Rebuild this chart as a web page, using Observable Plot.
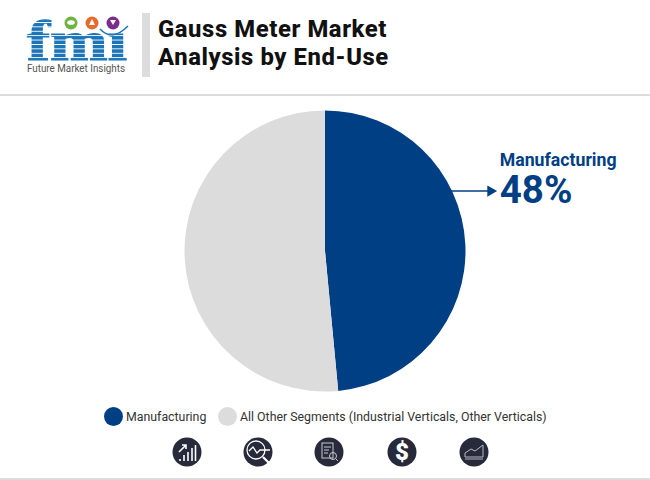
<!DOCTYPE html>
<html>
<head>
<meta charset="utf-8">
<script src="https://cdn.jsdelivr.net/npm/d3@7"></script>
<script src="https://cdn.jsdelivr.net/npm/@observablehq/plot@0.6"></script>
<style>
  html,body{margin:0;padding:0;background:#fff;}
  body{width:650px;height:480px;position:relative;overflow:hidden;font-family:Roboto,sans-serif;}
  #header{position:absolute;left:0;top:0;width:650px;height:96px;border-bottom:2px solid #dcdcdc;box-sizing:border-box;}
  #logo{position:absolute;left:20px;top:0;overflow:visible;}
  #bar{position:absolute;left:142px;top:13px;width:8px;height:64px;background:#dcdcdc;}
  #title{position:absolute;left:158px;top:16px;font-size:23.8px;line-height:27.5px;font-weight:800;color:#111;letter-spacing:.6px;white-space:nowrap;}
  #chart{position:absolute;left:0;top:96px;}
  #legend{position:absolute;left:0;top:407px;width:650px;height:20px;font-size:12.35px;color:#333;}
  #legend span{position:absolute;top:1px;line-height:18px;white-space:nowrap;}
  #legend i{position:absolute;top:0;width:19px;height:19px;border-radius:50%;}
  #icons{position:absolute;left:0;top:435px;}
  #foot{position:absolute;left:0;top:478px;width:650px;height:2px;background:#dcdcdc;}
</style>
</head>
<body>
<div id="header">
  <svg id="logo" width="115" height="80" viewBox="0 0 115 80">
    <defs>
      <pattern id="st" width="4" height="4.4" patternUnits="userSpaceOnUse"><rect width="4" height="0.9" fill="#fff"/></pattern>
    </defs>
    <text x="7" y="60" font-family="Liberation Serif,serif" font-weight="700" font-size="56" fill="#1c75b8" stroke="#1c75b8" stroke-width="1.2" textLength="100" lengthAdjust="spacingAndGlyphs">fmi</text>
    <rect x="78" y="14" width="30" height="19" fill="#fff"/>
    <rect x="4" y="18" width="106" height="44" fill="url(#st)"/>
    <circle cx="51" cy="23" r="6.5" fill="#6cb33f"/><ellipse cx="51" cy="22.500" rx="3.800" ry="2.300" fill="#fff"/>
    <circle cx="72" cy="23" r="6.5" fill="#e8692c"/><path d="M72 19l3 6h-6z" fill="#fff"/>
    <circle cx="93" cy="23" r="6.5" fill="#7b2d8b"/><path d="M90 20h6l-3 5z" fill="#fff"/>
    <path d="M80 29 Q92 42 108 26" fill="none" stroke="#1c75b8" stroke-width="1.5"/>
    <text x="7" y="72" font-family="Roboto,sans-serif" font-size="10" fill="#555" textLength="98" lengthAdjust="spacingAndGlyphs">Future Market Insights</text>
  </svg>
  <div id="bar"></div>
  <div id="title">Gauss Meter Market<br>Analysis by End-Use</div>
</div>
<div id="chart"></div>
<div id="legend"></div>
<svg id="icons" width="650" height="36" viewBox="0 435 650 36">
  <g fill="#272a3a">
    <circle cx="187" cy="452" r="14.5"/><circle cx="258" cy="452" r="14.5"/><circle cx="329" cy="452" r="14.5"/><circle cx="402" cy="452" r="14.5"/><circle cx="474" cy="452" r="14.5"/>
  </g>
  <g stroke="#fff" fill="none" stroke-width="1.6">
    <path d="M180 461v-2M184 461v-6M188 461v-9M192 461v-13M195.500 461v-16"/>
    <path d="M179 452l6-6M182 445h4v4"/>
  </g>
  <g fill="none" stroke="#fff" stroke-width="1.3">
    <circle cx="256" cy="450" r="9"/>
    <path d="M249 451l4-4 4 6 3-3h10" />
    <path d="M263 457l6 6" stroke-width="2.2"/>
  </g>
  <g fill="none" stroke="#c9cad0" stroke-width="1">
    <rect x="322" y="443" width="11" height="15"/>
    <path d="M324 447h7M324 450h5M324 453h4"/>
    <circle cx="333" cy="456" r="3.5"/><path d="M336 459l2 2"/>
  </g>
  <text x="402" y="460" text-anchor="middle" font-family="Roboto,sans-serif" font-weight="900" font-size="24" fill="#fff">$</text>
  <g fill="none" stroke="#b9bac2" stroke-width="1">
    <path d="M465 453l6-4 4 2 8-6v12h-18zM465 458h18"/>
  </g>
  <path d="M465 457h18v3h-18z" fill="#6d6f7c"/>
</svg>
<div id="foot"></div>
<script>
const categories = ["Manufacturing", "All Other Segments (Industrial Verticals, Other Verticals)"];
const shares = [48.5, 51.5];
const sliceColors = ["#003f84", "#dcdcdc"];
const calloutName = "Manufacturing";
const calloutValue = "48%";

const slices = categories.map((c, i) => ({category: c, share: shares[i]}));

// Pie unit coordinates: radius is 1, origin is the pie centre.
function pieMark(index, {x, y}) {
  const cx = x(0), cy = y(0), r = x(1) - x(0);
  const arcs = d3.pie().sort(null).value(d => d.share)(slices);
  const arc = d3.arc().innerRadius(0).outerRadius(r);
  const g = d3.create("svg:g").attr("transform", `translate(${cx},${cy})`);
  g.selectAll("path").data(arcs).join("path")
    .attr("d", arc)
    .attr("fill", (d, i) => sliceColors[i]);
  return g.node();
}

const R = 140.5;
const plot = Plot.plot({
  width: 650, height: 304, margin: 0,
  x: {domain: [-325 / R, 325 / R], range: [0, 650], axis: null},
  y: {domain: [-155 / R, 149 / R], range: [0, 304], axis: null},
  marks: [
    pieMark,
    Plot.ruleY([-0.43], {x1: 0.89, x2: 1.16, stroke: "#003f84", strokeWidth: 1.5}),
    Plot.dot([[1.175, -0.43]], {x: d => d[0], y: d => d[1], symbol: "triangle", rotate: 90, r: 4.2, fill: "#003f84"}),
    Plot.text([calloutName], {x: 1.24, y: -0.65, text: d => d, textAnchor: "start", fontSize: 17.7, fontWeight: 700, fill: "#003f84", fontFamily: "Roboto"}),
    Plot.text([calloutValue], {x: 1.24, y: -0.43, text: d => d, textAnchor: "start", fontSize: 38.5, fontWeight: 700, fill: "#003f84", fontFamily: "Roboto"})
  ]
});
document.getElementById("chart").append(plot);

const legend = document.getElementById("legend");
const swatchLeft = [104, 218], labelLeft = [126, 240];
categories.forEach((c, i) => {
  const sw = document.createElement("i");
  sw.style.left = swatchLeft[i] + "px";
  sw.style.background = sliceColors[i];
  const lb = document.createElement("span");
  lb.style.left = labelLeft[i] + "px";
  lb.textContent = c;
  legend.append(sw, lb);
});
</script>
</body>
</html>
